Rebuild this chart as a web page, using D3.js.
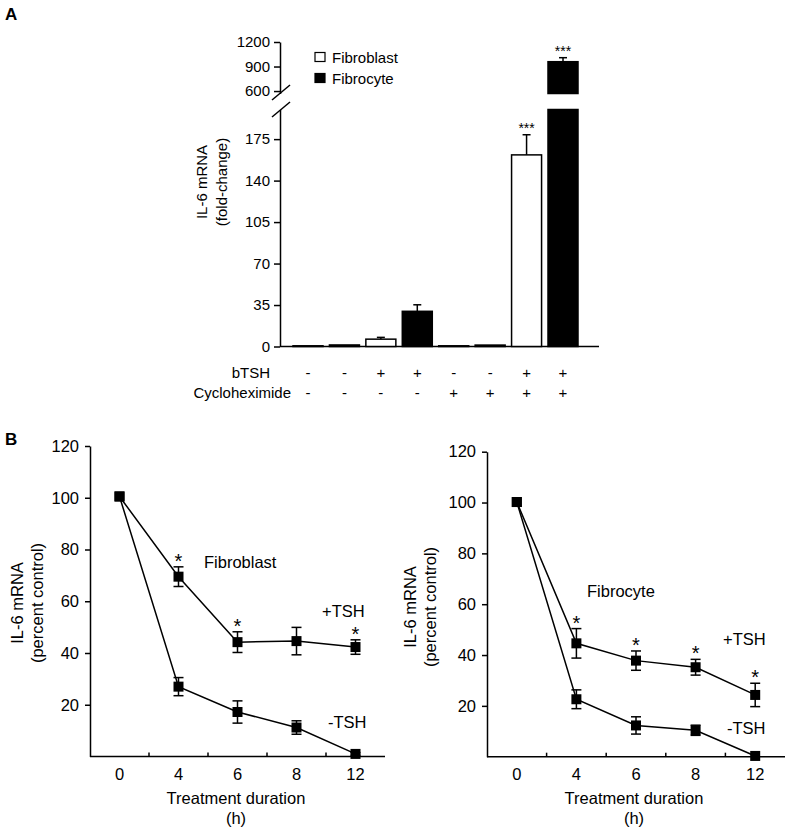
<!DOCTYPE html>
<html>
<head>
<meta charset="utf-8">
<script src="https://cdn.jsdelivr.net/npm/d3@7"></script>
<style>
  html, body { margin: 0; padding: 0; background: #fff; }
  svg { display: block; font-family: "Liberation Sans", Arial, sans-serif; }
</style>
</head>
<body>
<svg id="chart" width="792" height="832"></svg>
<script>
// ---------- Panel A data ----------
const barCells = ["Fibroblast","Fibrocyte","Fibroblast","Fibrocyte","Fibroblast","Fibrocyte","Fibroblast","Fibrocyte"];
const bTSH = ["-","-","+","+","-","-","+","+"];
const cycloheximide = ["-","-","-","-","+","+","+","+"];
const foldChange = [0.6, 1.3, 6.2, 29.7, 0.6, 1.2, 161.7, 959];
const foldChangeSEM = [0, 0, 1.5, 5.5, 0, 0, 17, 49];
const barStars = ["", "", "", "", "", "", "***", "***"];
const lowTicks = [0, 35, 70, 105, 140, 175];
const highTicks = [600, 900, 1200];
const legendItems = ["Fibroblast", "Fibrocyte"];

// ---------- Panel B data ----------
const timeLabels = ["0","4","6","8","12"];
const fibroblastPlus = [100.5, 69.5, 44.2, 44.6, 42.3];
const fibroblastPlusErr = [0, 3.8, 4.0, 5.3, 2.8];
const fibroblastMinus = [100.5, 27.0, 17.2, 11.2, 1.0];
const fibroblastMinusErr = [0, 3.5, 4.3, 2.6, 0.5];
const fibrocytePlus = [100.2, 44.6, 37.8, 35.2, 24.3];
const fibrocytePlusErr = [0, 5.8, 3.8, 3.1, 4.6];
const fibrocyteMinus = [100.2, 22.6, 12.3, 10.4, 0.3];
const fibrocyteMinusErr = [0, 3.7, 3.4, 2.0, 0];
const fibroblastStars = [false, true, true, false, true];
const fibrocyteStars = [false, true, true, true, true];
const pctTicks = [20, 40, 60, 80, 100, 120];

const svg = d3.select("#chart");
const fill = {Fibroblast: "#fff", Fibrocyte: "#000"};
const fsB = 16.5;

// Panel letters
svg.append("text").attr("x", 5).attr("y", 20).attr("font-size", 17).attr("font-weight", "bold").text("A");
svg.append("text").attr("x", 5).attr("y", 445).attr("font-size", 17).attr("font-weight", "bold").text("B");

// ================= Panel A =================
const A = svg.append("g");
const axX = 280;
const xA = d3.scalePoint().domain(d3.range(foldChange.length)).range([308, 563]);
const barW = 30;
const breakLow = 200, breakHigh = 570;
const yLow = d3.scaleLinear().domain([0, breakLow]).range([346.5, 109.5]);
const yHigh = d3.scaleLinear().domain([breakHigh, 1200]).range([93.5, 42]);

function styleAxis(g, fs) {
  g.selectAll("path.domain").attr("stroke", "#000").attr("stroke-width", 1.5);
  g.selectAll(".tick line").attr("stroke", "#000").attr("stroke-width", 1.5);
  g.selectAll(".tick text").attr("font-size", fs).attr("fill", "#000")
    .attr("font-family", '"Liberation Sans", Arial, sans-serif');
}

const gLow = A.append("g").attr("transform", `translate(${axX},0)`)
  .call(d3.axisLeft(yLow).tickValues(lowTicks).tickFormat(d3.format("d")).tickSize(6).tickPadding(4).tickSizeOuter(0));
styleAxis(gLow, 15);
const gHigh = A.append("g").attr("transform", `translate(${axX},0)`)
  .call(d3.axisLeft(yHigh).tickValues(highTicks).tickFormat(d3.format("d")).tickSize(6).tickPadding(4).tickSizeOuter(0));
styleAxis(gHigh, 15);

// break slashes
[yHigh(breakHigh) - 1, yLow(breakLow)].forEach(cy => {
  A.append("line").attr("x1", axX - 8).attr("y1", cy + 7.5).attr("x2", axX + 10).attr("y2", cy - 7.5)
    .attr("stroke", "#000").attr("stroke-width", 1.5);
});

// baseline
A.append("line").attr("x1", axX).attr("x2", 599).attr("y1", yLow(0)).attr("y2", yLow(0))
  .attr("stroke", "#000").attr("stroke-width", 1.5);

// bars
foldChange.forEach((v, i) => {
  const cx = xA(i);
  const c = fill[barCells[i]];
  if (v <= breakLow) {
    A.append("rect").attr("x", cx - barW / 2).attr("width", barW)
      .attr("y", yLow(v)).attr("height", yLow(0) - yLow(v))
      .attr("fill", c).attr("stroke", "#000").attr("stroke-width", 1.5);
  } else {
    A.append("rect").attr("x", cx - barW / 2).attr("width", barW)
      .attr("y", yLow(breakLow)).attr("height", yLow(0) - yLow(breakLow))
      .attr("fill", c).attr("stroke", "#000").attr("stroke-width", 1.5);
    A.append("rect").attr("x", cx - barW / 2).attr("width", barW)
      .attr("y", yHigh(v)).attr("height", yHigh(breakHigh) - yHigh(v))
      .attr("fill", c).attr("stroke", "#000").attr("stroke-width", 1.5);
  }
  const sc = v > breakLow ? yHigh : yLow;
  let top = sc(v);
  if (foldChangeSEM[i] > 0) {
    const et = sc(v + foldChangeSEM[i]);
    A.append("line").attr("x1", cx).attr("x2", cx).attr("y1", sc(v)).attr("y2", et)
      .attr("stroke", "#000").attr("stroke-width", 1.5);
    A.append("line").attr("x1", cx - 4).attr("x2", cx + 4).attr("y1", et).attr("y2", et)
      .attr("stroke", "#000").attr("stroke-width", 1.5);
    top = et;
  }
  if (barStars[i]) {
    A.append("text").attr("x", cx).attr("y", top - 2).attr("text-anchor", "middle")
      .attr("font-size", 14).text(barStars[i]);
  }
  A.append("text").attr("x", cx).attr("y", 372).attr("text-anchor", "middle")
    .attr("dominant-baseline", "central").attr("font-size", 15).attr("fill", "#000").text(bTSH[i]);
  A.append("text").attr("x", cx).attr("y", 392).attr("text-anchor", "middle")
    .attr("dominant-baseline", "central").attr("font-size", 15).attr("fill", "#000").text(cycloheximide[i]);
});

A.append("text").attr("x", 270).attr("y", 372).attr("text-anchor", "end")
  .attr("dominant-baseline", "central").attr("font-size", 15).text("bTSH");
A.append("text").attr("x", 291).attr("y", 392).attr("text-anchor", "end")
  .attr("dominant-baseline", "central").attr("font-size", 15).text("Cycloheximide");

// y title
const ytA = A.append("text").attr("transform", "translate(202,182) rotate(-90)")
  .attr("text-anchor", "middle").attr("font-size", 15);
ytA.append("tspan").attr("x", 0).attr("dy", "0.35em").text("IL-6 mRNA");
ytA.append("tspan").attr("x", 0).attr("dy", "1.3em").text("(fold-change)");

// legend
legendItems.forEach((name, i) => {
  const ly = 57 + i * 21;
  A.append("rect").attr("x", 315).attr("y", ly - 4.5).attr("width", 10).attr("height", 9)
    .attr("fill", fill[name]).attr("stroke", "#000").attr("stroke-width", 1.2);
  A.append("text").attr("x", 332).attr("y", ly).attr("dominant-baseline", "central")
    .attr("font-size", 15).text(name);
});

// ================= Panel B =================
function linePanel(cfg) {
  const g = svg.append("g");
  const x = d3.scaleBand().domain(timeLabels).range(cfg.xr);
  const y = d3.scaleLinear().domain([0, 120]).range(cfg.yr);
  const cxF = t => x(t) + x.bandwidth() / 2;

  const gy = g.append("g").attr("transform", `translate(${cfg.xr[0]},0)`)
    .call(d3.axisLeft(y).tickValues(pctTicks).tickSize(5).tickPadding(6).tickSizeOuter(0));
  styleAxis(gy, fsB);

  // x axis line
  g.append("line").attr("x1", cfg.xr[0]).attr("x2", cfg.xr[1]).attr("y1", y(0)).attr("y2", y(0))
    .attr("stroke", "#000").attr("stroke-width", 1.5);
  // inward ticks at band boundaries
  timeLabels.slice(1).forEach(t => {
    g.append("line").attr("x1", x(t)).attr("x2", x(t)).attr("y1", y(0)).attr("y2", y(0) - 4)
      .attr("stroke", "#000").attr("stroke-width", 1.5);
  });
  timeLabels.forEach(t => {
    g.append("text").attr("x", cxF(t)).attr("y", y(0) + 17).attr("text-anchor", "middle")
      .attr("dominant-baseline", "central").attr("font-size", fsB).text(t);
  });
  g.append("text").attr("x", cfg.titleX).attr("y", 798).attr("text-anchor", "middle")
    .attr("dominant-baseline", "central").attr("font-size", fsB).text("Treatment duration");
  g.append("text").attr("x", cfg.titleX).attr("y", 818).attr("text-anchor", "middle")
    .attr("dominant-baseline", "central").attr("font-size", fsB).text("(h)");

  const yt = g.append("text").attr("transform", `translate(${cfg.ytX},${cfg.ytY}) rotate(-90)`)
    .attr("text-anchor", "middle").attr("font-size", fsB);
  yt.append("tspan").attr("x", 0).attr("dy", "0.35em").text("IL-6 mRNA");
  yt.append("tspan").attr("x", 0).attr("dy", "1.25em").text("(percent control)");

  const line = d3.line().x(d => cxF(d.t)).y(d => y(d.v));
  [[cfg.minus, cfg.minusErr], [cfg.plus, cfg.plusErr]].forEach(([vals, errs]) => {
    const pts = vals.map((v, i) => ({t: timeLabels[i], v, e: errs[i]}));
    g.append("path").datum(pts).attr("d", line).attr("fill", "none")
      .attr("stroke", "#000").attr("stroke-width", 1.5);
    pts.forEach(p => {
      if (p.e > 0) {
        const cx = cxF(p.t);
        g.append("line").attr("x1", cx).attr("x2", cx).attr("y1", y(p.v - p.e)).attr("y2", y(p.v + p.e))
          .attr("stroke", "#000").attr("stroke-width", 1.5);
        [p.v - p.e, p.v + p.e].forEach(ev => {
          g.append("line").attr("x1", cx - 5).attr("x2", cx + 5).attr("y1", y(ev)).attr("y2", y(ev))
            .attr("stroke", "#000").attr("stroke-width", 1.5);
        });
      }
      g.append("rect").attr("x", cxF(p.t) - 5).attr("y", y(p.v) - 5).attr("width", 10).attr("height", 10)
        .attr("fill", "#000");
    });
  });
  cfg.stars.forEach((s, i) => {
    if (!s) return;
    g.append("text").attr("x", cxF(timeLabels[i])).attr("y", y(cfg.plus[i] + cfg.plusErr[i]) + 1)
      .attr("text-anchor", "middle").attr("font-size", 20).text("*");
  });
  g.append("text").attr("x", cfg.cellX).attr("y", cfg.cellY).attr("dominant-baseline", "central")
    .attr("font-size", fsB).text(cfg.cell);
  g.append("text").attr("x", cfg.plusX).attr("y", cfg.plusY).attr("dominant-baseline", "central")
    .attr("font-size", fsB).text("+TSH");
  g.append("text").attr("x", cfg.minusX).attr("y", cfg.minusY).attr("dominant-baseline", "central")
    .attr("font-size", fsB).text("-TSH");
}

linePanel({
  xr: [90, 385], yr: [756.5, 446], titleX: 236, ytX: 17, ytY: 603,
  plus: fibroblastPlus, plusErr: fibroblastPlusErr, minus: fibroblastMinus, minusErr: fibroblastMinusErr,
  stars: fibroblastStars, cell: "Fibroblast", cellX: 204, cellY: 562,
  plusX: 322, plusY: 611, minusX: 328, minusY: 722
});
linePanel({
  xr: [487, 785], yr: [756.7, 451.7], titleX: 634, ytX: 410, ytY: 607,
  plus: fibrocytePlus, plusErr: fibrocytePlusErr, minus: fibrocyteMinus, minusErr: fibrocyteMinusErr,
  stars: fibrocyteStars, cell: "Fibrocyte", cellX: 587, cellY: 591,
  plusX: 723, plusY: 639, minusX: 727, minusY: 728
});
</script>
</body>
</html>
